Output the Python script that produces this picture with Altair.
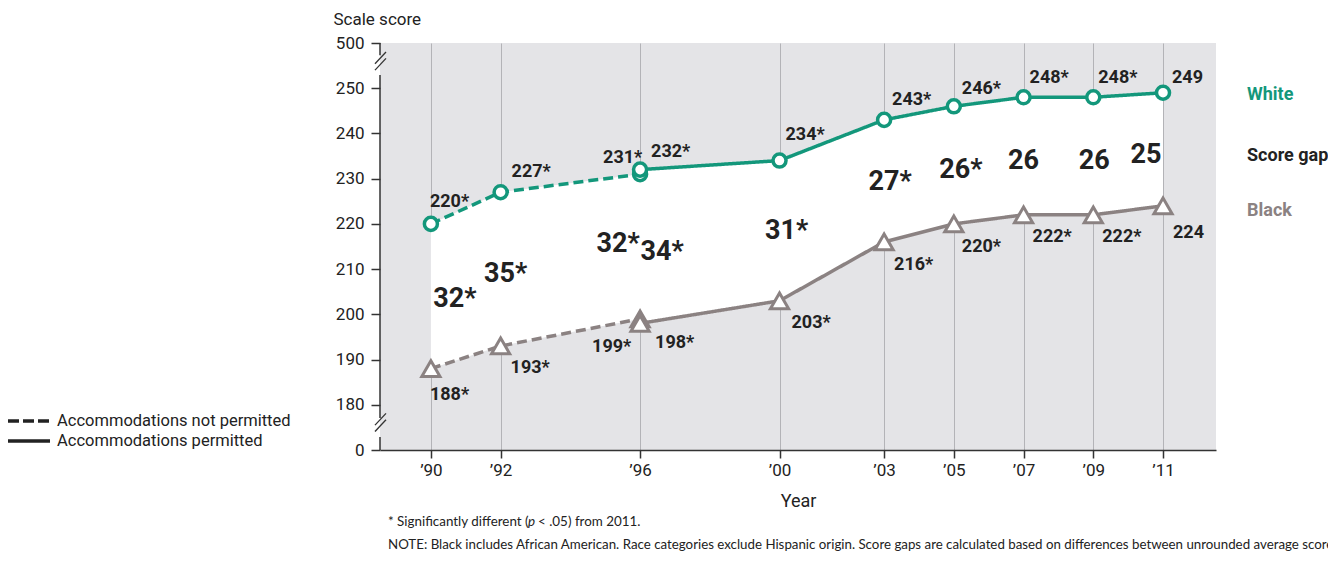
import altair as alt
import pandas as pd

# ---------------- data ----------------
years = [1990, 1992, 1996, 1996, 2000, 2003, 2005, 2007, 2009, 2011]
accommodations = ["Accommodations not permitted"] * 3 + ["Accommodations permitted"] * 7
white_scores = [220, 227, 231, 232, 234, 243, 246, 248, 248, 249]
black_scores = [188, 193, 199, 198, 203, 216, 220, 222, 222, 224]
white_labels = ["220*", "227*", "231*", "232*", "234*", "243*", "246*", "248*", "248*", "249"]
black_labels = ["188*", "193*", "199*", "198*", "203*", "216*", "220*", "222*", "222*", "224"]
gap_labels = ["32*", "35*", "32*", "34*", "31*", "27*", "26*", "26", "26", "25"]

tick_years = [1990, 1992, 1996, 2000, 2003, 2005, 2007, 2009, 2011]
tick_labels = ["’90", "’92", "’96", "’00", "’03", "’05", "’07", "’09", "’11"]
y_ticks = [170, 180, 190, 200, 210, 220, 230, 240, 250, 260]
y_tick_labels = ["0", "180", "190", "200", "210", "220", "230", "240", "250", "500"]
series_names = ["White", "Score gap", "Black"]
legend_labels = ["Accommodations not permitted", "Accommodations permitted"]
footnote_1 = ["* Significantly different (", "p", " < .05) from 2011."]
footnote_2 = ("NOTE: Black includes African American. Race categories exclude Hispanic origin. "
              "Score gaps are calculated based on differences between unrounded average scores.")

# ---------------- style ----------------
FONT = "Roboto, Liberation Sans, sans-serif"
NOTE_FONT = "Lato, Open Sans, sans-serif"
TEAL = "#13977b"
GREY = "#8b8282"
TEXT = "#222222"
X_DOMAIN = [1988.54, 2012.52]
Y_DOMAIN = [170, 260]
W, H = 836, 407
PX_YEAR = W / (X_DOMAIN[1] - X_DOMAIN[0])
PX_PT = H / (Y_DOMAIN[1] - Y_DOMAIN[0])

# label nudges in pixels (dx, dy of the text anchor from its point)
white_nudge = [(-1, -17), (11, -15), (-37, -11), (11, -13), (6, -21), (8, -15), (8, -12), (6, -14), (5, -14), (9, -10)]
black_nudge = [(-1, 31), (10, 27), (-48, 33), (15, 25), (12, 27), (10, 28), (8, 28), (9, 27), (9, 27), (10, 32)]
gap_nudge = [(24, 11), (5, 13), (-22, 5), (22, 13), (7, 8), (6, 9), (7, 13), (0, 13), (1, 13), (-17, 14)]
name_nudge = [(84, 7), (84, 12), (84, 10)]


def nx(year, dx):
    return year + dx / PX_YEAR


def ny(v, dy):
    return v - dy / PX_PT


df = pd.DataFrame({
    "year": years,
    "accom": accommodations,
    "white": white_scores,
    "black": black_scores,
    "wlab": white_labels,
    "blab": black_labels,
    "glab": gap_labels,
})
df["mid"] = (df["white"] + df["black"]) / 2
df["wx"] = [nx(y, n[0]) for y, n in zip(years, white_nudge)]
df["wy"] = [ny(v, n[1]) for v, n in zip(white_scores, white_nudge)]
df["bx"] = [nx(y, n[0]) for y, n in zip(years, black_nudge)]
df["by"] = [ny(v, n[1]) for v, n in zip(black_scores, black_nudge)]
df["gx"] = [nx(y, n[0]) for y, n in zip(years, gap_nudge)]
df["gy"] = [ny(v, n[1]) for v, n in zip(df["mid"], gap_nudge)]

last = df.iloc[-1]
name_vals = [last["white"], last["mid"], last["black"]]
names_df = pd.DataFrame({
    "name": series_names,
    "x": [nx(last["year"], n[0]) for n in name_nudge],
    "v": [ny(v, n[1]) for v, n in zip(name_vals, name_nudge)],
    "col": [TEAL, TEXT, GREY],
})


def expr_map(keys, vals):
    e = "''"
    for k, v in zip(reversed(keys), reversed(vals)):
        e = f"datum.value == {k} ? '{v}' : ({e})"
    return e


xscale = alt.Scale(domain=X_DOMAIN, nice=False, zero=False)
yscale = alt.Scale(domain=Y_DOMAIN, nice=False, zero=False)

xaxis = alt.Axis(values=tick_years, labelExpr=expr_map(tick_years, tick_labels), title="Year",
                 grid=True, gridColor="#b3b3b7", gridWidth=1, ticks=True, tickSize=8,
                 tickColor="#333", tickWidth=1.5, domainColor="#333", domainWidth=1.5,
                 labelFont=FONT, labelFontSize=17, labelColor=TEXT, labelPadding=4,
                 titleFont=FONT, titleFontSize=18, titleFontWeight="normal", titleColor=TEXT,
                 titlePadding=14)
yaxis = alt.Axis(values=y_ticks, labelExpr=expr_map(y_ticks, y_tick_labels), title="Scale score",
                 grid=False, domain=False, ticks=True, tickSize=9, tickColor="#333", tickWidth=1.5,
                 labelFont=FONT, labelFontSize=17, labelColor=TEXT, labelPadding=7,
                 titleFont=FONT, titleFontSize=17, titleFontWeight="normal", titleColor=TEXT,
                 titleAngle=0, titleAlign="left", titleBaseline="alphabetic", titleX=-47, titleY=-19)


def X(f, **kw):
    return alt.X(f"{f}:Q", scale=xscale, axis=xaxis, **kw)


def Y(f, **kw):
    return alt.Y(f"{f}:Q", scale=yscale, axis=yaxis, **kw)


base = alt.Chart(df)

area = base.mark_area(fill="#ffffff", opacity=1, stroke=None).encode(
    x=X("year"), y=Y("black"), y2=alt.Y2("white:Q"))

dash_scale = alt.Scale(domain=legend_labels, range=[[10, 5], [1, 0]])

white_line = base.mark_line(color=TEAL, strokeWidth=3.5).encode(
    x=X("year"), y=Y("white"),
    strokeDash=alt.StrokeDash("accom:N", scale=dash_scale, legend=None))
black_line = base.mark_line(color=GREY, strokeWidth=3.5).encode(
    x=X("year"), y=Y("black"),
    strokeDash=alt.StrokeDash("accom:N", scale=dash_scale, legend=None))

white_pts = base.mark_point(shape="circle", filled=True, fill="white", stroke=TEAL,
                            strokeWidth=3.5, size=170, opacity=1).encode(
    x=X("year"), y=Y("white"))
black_pts = base.mark_point(shape="triangle-up", filled=True, fill="white", stroke=GREY,
                            strokeWidth=3, size=330, opacity=1).encode(
    x=X("year"), y=Y("black"))

white_txt = base.mark_text(font=FONT, fontSize=18, fontWeight="bold", color=TEXT,
                           align="left", baseline="alphabetic").encode(
    x=X("wx"), y=Y("wy"), text="wlab:N")
black_txt = base.mark_text(font=FONT, fontSize=18, fontWeight="bold", color=TEXT,
                           align="left", baseline="alphabetic").encode(
    x=X("bx"), y=Y("by"), text="blab:N")
gap_txt = base.mark_text(font=FONT, fontSize=27, fontWeight="bold", color=TEXT,
                         align="center", baseline="alphabetic").encode(
    x=X("gx"), y=Y("gy"), text="glab:N")

names_txt = alt.Chart(names_df).mark_text(font=FONT, fontSize=18, fontWeight="bold",
                                          align="left", baseline="alphabetic").encode(
    x=X("x"), y=Y("v"), text="name:N",
    color=alt.Color("col:N", scale=None))

# broken y-axis line with break marks
seg_df = pd.DataFrame({"a": [260, 252.9, 172.9], "b": [257.3, 177.1, 170]})
axis_line = alt.Chart(seg_df).mark_rule(color="#333", strokeWidth=1.5).encode(
    x=alt.value(0), y=Y("a"), y2="b")
slash_df = pd.DataFrame({"a": [254.0, 255.4, 174.1, 175.5], "b": [256.6, 258.0, 176.7, 178.1]})
slashes = alt.Chart(slash_df).mark_rule(color="#333", strokeWidth=1.3).encode(
    x=alt.value(-5), x2=alt.value(6), y=Y("a"), y2="b")

# line-style key (left)
one = pd.DataFrame({"t": [0]})
key_dash = alt.Chart(one).mark_rule(color="#222", strokeWidth=3.5, strokeDash=[11, 4]).encode(
    x=alt.value(-372), x2=alt.value(-330), y=alt.value(378))
key_solid = alt.Chart(one).mark_rule(color="#222", strokeWidth=3.5).encode(
    x=alt.value(-372), x2=alt.value(-330), y=alt.value(398))
key_t1 = alt.Chart(one).mark_text(text=legend_labels[0], font=FONT, fontSize=16.5, color=TEXT,
                                  align="left", baseline="middle").encode(
    x=alt.value(-323), y=alt.value(378))
key_t2 = alt.Chart(one).mark_text(text=legend_labels[1], font=FONT, fontSize=16.5, color=TEXT,
                                  align="left", baseline="middle").encode(
    x=alt.value(-323), y=alt.value(398))

fn1a = alt.Chart(one).mark_text(text=footnote_1[0], font=NOTE_FONT, fontSize=13.4, color=TEXT,
                                align="left", baseline="alphabetic").encode(
    x=alt.value(8), y=alt.value(483))
fn1b = alt.Chart(one).mark_text(text=footnote_1[1], font=NOTE_FONT, fontSize=13.4, color=TEXT,
                                fontStyle="italic", align="left", baseline="alphabetic").encode(
    x=alt.value(148), y=alt.value(483))
fn1c = alt.Chart(one).mark_text(text=footnote_1[2], font=NOTE_FONT, fontSize=13.4, color=TEXT,
                                align="left", baseline="alphabetic").encode(
    x=alt.value(158), y=alt.value(483))
fn2 = alt.Chart(one).mark_text(text=footnote_2, font=NOTE_FONT, fontSize=13.3, color=TEXT,
                               align="left", baseline="alphabetic").encode(
    x=alt.value(8), y=alt.value(506))

chart = alt.layer(
    area, white_line, black_line, white_pts, black_pts,
    white_txt, black_txt, gap_txt, names_txt, axis_line, slashes,
    key_dash, key_solid, key_t1, key_t2,
    fn1a, fn1b, fn1c, fn2,
).properties(
    width=W, height=H,
    autosize=alt.AutoSizeParams(type="none"),
    padding={"left": 372, "top": 35, "right": 112, "bottom": 104},
).configure_view(fill="#e4e4e7", stroke=None)

chart.save("out.html", embed_options={"renderer": "svg", "actions": False})
